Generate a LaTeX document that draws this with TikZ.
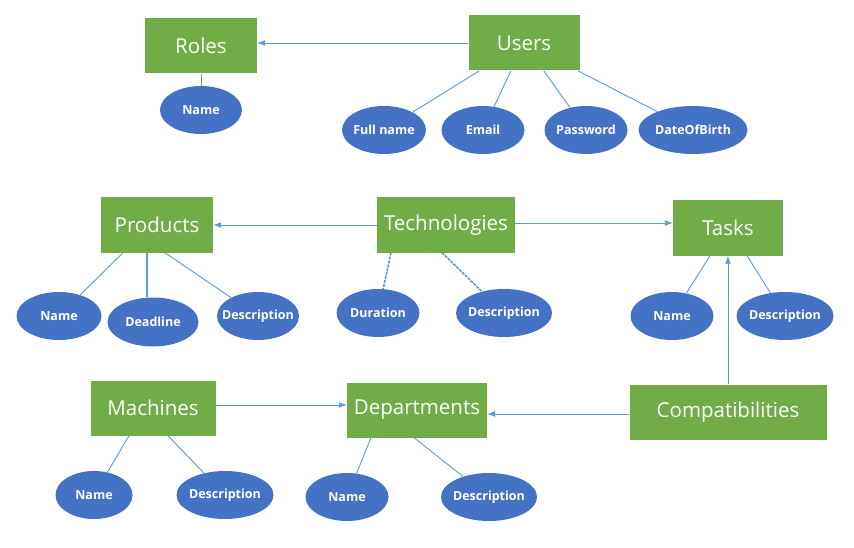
\documentclass[tikz,border=0pt]{standalone}
\usepackage{fontspec}
\setmainfont{Open Sans}
\usetikzlibrary{shapes.geometric,arrows.meta}
\definecolor{entgreen}{HTML}{70AD47}
\definecolor{attrblue}{HTML}{4472C4}
\definecolor{linkblue}{HTML}{5B9BD5}
\tikzset{
	entity/.style={fill=entgreen, text=white, minimum height=55, inner sep=0, font=\fontsize{20.5}{24}\selectfont},
	attr/.style={ellipse, fill=attrblue, text=white, minimum height=48, inner xsep=-14pt, inner ysep=0, font=\fontsize{12.5}{15}\selectfont\bfseries},
	link/.style={draw=linkblue, line width=0.9pt},
	rel/.style={link, -{Latex[length=8pt,width=6pt]}}
}
\begin{document}
\begin{tikzpicture}[x=1pt,y=-1pt]
		\useasboundingbox (0,0) rectangle (854,548);

		\node[entity, minimum width=112] (roles) at (201,46) {Roles};
		\node[entity, minimum width=111] (users) at (524,43) {Users};
		\node[entity, minimum width=112] (products) at (157,225) {Products};
		\node[entity, minimum width=138] (technologies) at (446,225) {Technologies};
		\node[entity, minimum width=110] (tasks) at (728,228) {Tasks};
		\node[entity, minimum width=125] (machines) at (153,408) {Machines};
		\node[entity, minimum width=140] (departments) at (417,410) {Departments};
		\node[entity, minimum width=197] (compat) at (728,412) {Compatibilities};

		\node[attr, minimum width=82] (rname) at (201,110) {Name};
		\node[attr, minimum width=84] (ufull) at (384,130) {Full name};
		\node[attr, minimum width=83] (uemail) at (483,130) {Email};
		\node[attr, minimum width=83] (upass) at (586,130) {Password};
		\node[attr, minimum width=109] (ubirth) at (693,130) {DateOfBirth};

		\node[attr, minimum width=85] (pname) at (59,316) {Name};
		\node[attr, minimum width=91, minimum height=49] (pdead) at (153,322) {Deadline};
		\node[attr, minimum width=82] (pdesc) at (258,316) {Description};
		\node[attr, minimum width=83] (tdur) at (378,313) {Duration};
		\node[attr, minimum width=96] (tdesc) at (504,313) {Description};
		\node[attr, minimum width=83] (kname) at (672,316) {Name};
		\node[attr, minimum width=97] (kdesc) at (785,316) {Description};

		\node[attr, minimum width=77] (mname) at (94,495) {Name};
		\node[attr, minimum width=97] (mdesc) at (225,495) {Description};
		\node[attr, minimum width=83] (dname) at (347,497) {Name};
		\node[attr, minimum width=96] (ddesc) at (489,497) {Description};

		\draw[rel] (users.west) -- (users.west -| roles.east);
		\draw[rel] (technologies.west) -- (technologies.west -| products.east);
		\draw[rel] ([yshift=2]technologies.east) -- ([yshift=2]technologies.east -| tasks.west);
		\draw[rel] (compat.north -| tasks.south) -- (tasks.south);
		\draw[rel] ([yshift=-2]compat.west) -- ([yshift=-2]compat.west -| departments.east);
		\draw[rel] ([yshift=3]machines.east) -- ([yshift=3]machines.east -| departments.west);

		\draw[link] (roles) -- (rname);
		\draw[link] (users) -- (ufull);
		\draw[link] (users) -- (uemail);
		\draw[link] (users) -- (upass);
		\draw[link] (users) -- (ubirth);

		\draw[link] ([xshift=-34]products.south) -- (pname);
		\draw[link, line width=1.3pt] ([xshift=-10]products.south) -- ([xshift=-6]pdead.north);
		\draw[link] ([xshift=8]products.south) -- (pdesc);
		\draw[link, line width=1.6pt, dash pattern=on 3pt off 1pt] ([xshift=-55]technologies.south) -- (tdur);
		\draw[link, line width=1.6pt, dash pattern=on 3pt off 1pt] ([xshift=-4]technologies.south) -- (tdesc);
		\draw[link] ([xshift=-18]tasks.south) -- (kname);
		\draw[link] ([xshift=19]tasks.south) -- (kdesc);

		\draw[link] ([xshift=-24]machines.south) -- (mname);
		\draw[link] ([xshift=15]machines.south) -- (mdesc);
		\draw[link] ([xshift=-46]departments.south) -- (dname);
		\draw[link] ([xshift=-3]departments.south) -- (ddesc);
	\end{tikzpicture}
\end{document}
